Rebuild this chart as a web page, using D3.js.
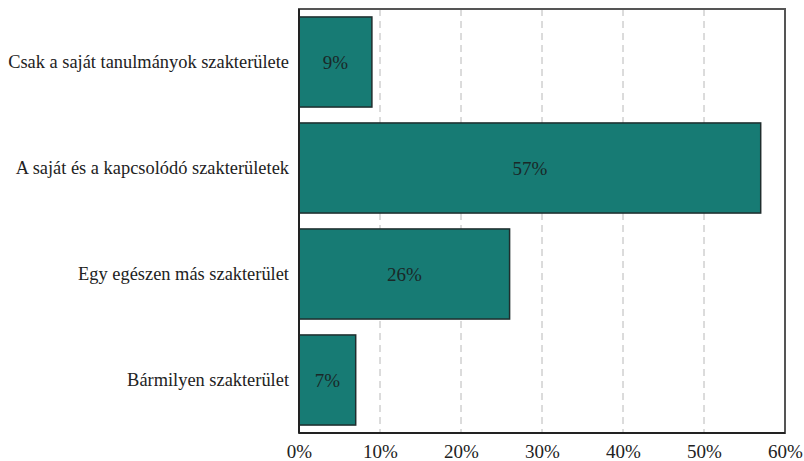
<!DOCTYPE html>
<html><head><meta charset="utf-8">
<script src="https://cdn.jsdelivr.net/npm/d3@7"></script>
<style>body{margin:0;background:#fff}svg{display:block}</style>
</head><body><svg id="c" width="804" height="461"></svg>
<script>
const categories = ["Csak a saját tanulmányok szakterülete","A saját és a kapcsolódó szakterületek","Egy egészen más szakterület","Bármilyen szakterület"];
const values = [9, 57, 26, 7];
const tickValues = [0, 10, 20, 30, 40, 50, 60];

const svg = d3.select("#c");
const m = {left: 299, right: 785, top: 9, bottom: 433};
const x = d3.scaleLinear().domain([0, 60]).range([m.left, m.right]);
const y = d3.scaleBand().domain(categories).range([m.top, m.bottom]).paddingInner(0.15).paddingOuter(0.075);
const font = "Liberation Serif, DejaVu Serif";

// gridlines
svg.append("g").selectAll("line").data(tickValues.slice(1, -1)).join("line")
  .attr("x1", d => x(d)).attr("x2", d => x(d)).attr("y1", m.top).attr("y2", m.bottom)
  .attr("stroke", "#b8b8b8").attr("stroke-width", 1).attr("stroke-dasharray", "7,5");

// bars
svg.append("g").selectAll("rect").data(values).join("rect")
  .attr("x", x(0)).attr("y", (d, i) => y(categories[i]))
  .attr("width", d => x(d) - x(0)).attr("height", y.bandwidth())
  .attr("fill", "#177b74").attr("stroke", "#1f2d2d").attr("stroke-width", 1.5);

// value labels
svg.append("g").selectAll("text").data(values).join("text")
  .attr("x", d => (x(0) + x(d)) / 2).attr("y", (d, i) => y(categories[i]) + y.bandwidth() / 2)
  .attr("dy", "0.35em").attr("text-anchor", "middle")
  .attr("font-family", font).attr("font-size", 19).attr("fill", "#1a2828")
  .text(d => d + "%");

// frame
svg.append("rect").attr("x", m.left).attr("y", m.top).attr("width", m.right - m.left).attr("height", m.bottom - m.top)
  .attr("fill", "none").attr("stroke", "#555").attr("stroke-width", 2);
svg.append("line").attr("x1", m.left).attr("x2", m.left).attr("y1", m.top).attr("y2", m.bottom).attr("stroke", "#222").attr("stroke-width", 2);
svg.append("line").attr("x1", m.left).attr("x2", m.right).attr("y1", m.bottom).attr("y2", m.bottom).attr("stroke", "#222").attr("stroke-width", 2);

// x axis
const xa = svg.append("g").attr("transform", `translate(0,${m.bottom})`)
  .call(d3.axisBottom(x).tickValues(tickValues).tickFormat(d => d + "%").tickSize(0).tickPadding(11.5));
xa.select(".domain").remove();
xa.attr("font-family", font).attr("font-size", 19);
xa.selectAll("text").attr("fill", "#222");

// y axis
const ya = svg.append("g").attr("transform", `translate(${m.left},0)`)
  .call(d3.axisLeft(y).tickSize(0).tickPadding(10));
ya.select(".domain").remove();
ya.attr("font-family", font).attr("font-size", 18.4);
ya.selectAll("text").attr("fill", "#222");
</script></body></html>
